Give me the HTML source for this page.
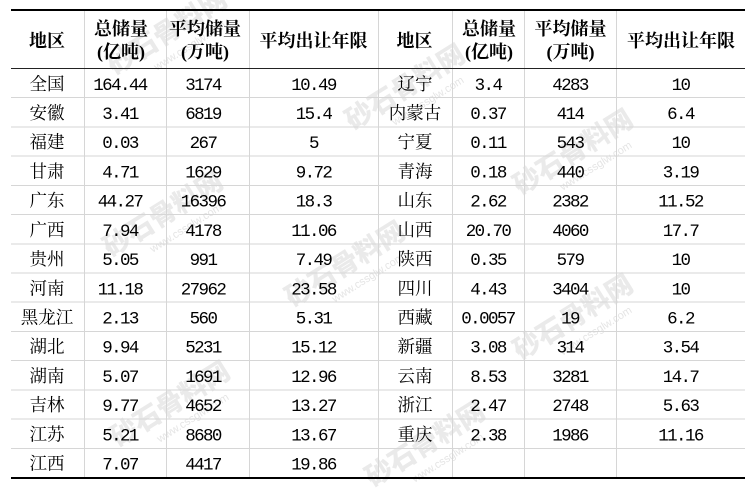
<!DOCTYPE html>
<html><head><meta charset="utf-8"><style>
html,body{margin:0;padding:0;background:#fff;}
svg{display:block;}
.h{font-family:"Noto Serif CJK SC","Noto Serif CJK JP","Liberation Serif",serif;font-weight:700;font-size:18px;fill:#000;}
.hp{font-family:"Liberation Serif",serif;font-weight:700;font-size:18px;fill:#000;}
.c{font-family:"Noto Serif CJK SC","Noto Serif CJK JP",serif;font-size:17.5px;fill:#000;}
.n{font-family:"Liberation Mono",monospace;font-size:17.5px;letter-spacing:-1.6px;fill:#000;}
.wm{font-family:"Noto Sans CJK SC",sans-serif;font-weight:900;font-size:27px;fill:#bbb;fill-opacity:0.3;}
.ws{font-family:"Liberation Sans",sans-serif;font-size:11px;fill:#bbb;fill-opacity:0.4;}
</style></head><body>
<svg width="754" height="488" viewBox="0 0 754 488" xmlns="http://www.w3.org/2000/svg">
<rect width="754" height="488" fill="#fff"/>
<g>
<g transform="translate(172,40) rotate(-32)"><text class="wm" x="0" y="0" text-anchor="middle">砂石骨料网</text><text class="ws" x="12" y="18" text-anchor="middle">www.cssglw.com</text></g>
<g transform="translate(168,222) rotate(-32)"><text class="wm" x="0" y="0" text-anchor="middle">砂石骨料网</text><text class="ws" x="12" y="18" text-anchor="middle">www.cssglw.com</text></g>
<g transform="translate(175,412) rotate(-32)"><text class="wm" x="0" y="0" text-anchor="middle">砂石骨料网</text><text class="ws" x="12" y="18" text-anchor="middle">www.cssglw.com</text></g>
<g transform="translate(410,95) rotate(-32)"><text class="wm" x="0" y="0" text-anchor="middle">砂石骨料网</text><text class="ws" x="12" y="18" text-anchor="middle">www.cssglw.com</text></g>
<g transform="translate(350,272) rotate(-32)"><text class="wm" x="0" y="0" text-anchor="middle">砂石骨料网</text><text class="ws" x="12" y="18" text-anchor="middle">www.cssglw.com</text></g>
<g transform="translate(430,452) rotate(-32)"><text class="wm" x="0" y="0" text-anchor="middle">砂石骨料网</text><text class="ws" x="12" y="18" text-anchor="middle">www.cssglw.com</text></g>
<g transform="translate(578,160) rotate(-32)"><text class="wm" x="0" y="0" text-anchor="middle">砂石骨料网</text><text class="ws" x="12" y="18" text-anchor="middle">www.cssglw.com</text></g>
<g transform="translate(578,325) rotate(-32)"><text class="wm" x="0" y="0" text-anchor="middle">砂石骨料网</text><text class="ws" x="12" y="18" text-anchor="middle">www.cssglw.com</text></g>
</g>
<g stroke="#d6d6d6" stroke-width="1" shape-rendering="crispEdges">
<line x1="84.5" y1="11" x2="84.5" y2="477"/>
<line x1="166.5" y1="11" x2="166.5" y2="477"/>
<line x1="249.5" y1="11" x2="249.5" y2="477"/>
<line x1="378.5" y1="11" x2="378.5" y2="477"/>
<line x1="452.5" y1="11" x2="452.5" y2="477"/>
<line x1="524.5" y1="11" x2="524.5" y2="477"/>
<line x1="616.5" y1="11" x2="616.5" y2="477"/>
<line x1="11" y1="97.7" x2="745" y2="97.7"/>
<line x1="11" y1="126.9" x2="745" y2="126.9"/>
<line x1="11" y1="156.1" x2="745" y2="156.1"/>
<line x1="11" y1="185.4" x2="745" y2="185.4"/>
<line x1="11" y1="214.6" x2="745" y2="214.6"/>
<line x1="11" y1="243.8" x2="745" y2="243.8"/>
<line x1="11" y1="273.0" x2="745" y2="273.0"/>
<line x1="11" y1="302.2" x2="745" y2="302.2"/>
<line x1="11" y1="331.4" x2="745" y2="331.4"/>
<line x1="11" y1="360.6" x2="745" y2="360.6"/>
<line x1="11" y1="389.9" x2="745" y2="389.9"/>
<line x1="11" y1="419.1" x2="745" y2="419.1"/>
<line x1="11" y1="448.3" x2="745" y2="448.3"/>
</g>
<g shape-rendering="crispEdges">
<rect x="11" y="9" width="734" height="2" fill="#000"/>
<rect x="11" y="68" width="734" height="1" fill="#222"/>
<rect x="11" y="477" width="734" height="2" fill="#000"/>
</g>
<g class="h" text-anchor="middle">
<text x="47" y="47">地区</text>
<text x="121" y="35">总储量</text>
<text x="121" y="58"><tspan class="hp">(</tspan>亿吨<tspan class="hp">)</tspan></text>
<text x="205" y="35">平均储量</text>
<text x="205" y="58"><tspan class="hp">(</tspan>万吨<tspan class="hp">)</tspan></text>
<text x="313.5" y="47">平均出让年限</text>
<text x="414.5" y="47">地区</text>
<text x="489" y="35">总储量</text>
<text x="489" y="58"><tspan class="hp">(</tspan>亿吨<tspan class="hp">)</tspan></text>
<text x="570.5" y="35">平均储量</text>
<text x="570.5" y="58"><tspan class="hp">(</tspan>万吨<tspan class="hp">)</tspan></text>
<text x="681" y="47">平均出让年限</text>
</g>
<g class="c" text-anchor="middle">
<text x="47" y="89.8">全国</text>
<text x="47" y="119.0">安徽</text>
<text x="47" y="148.2">福建</text>
<text x="47" y="177.4">甘肃</text>
<text x="47" y="206.7">广东</text>
<text x="47" y="235.9">广西</text>
<text x="47" y="265.1">贵州</text>
<text x="47" y="294.3">河南</text>
<text x="47" y="323.5">黑龙江</text>
<text x="47" y="352.7">湖北</text>
<text x="47" y="381.9">湖南</text>
<text x="47" y="411.2">吉林</text>
<text x="47" y="440.4">江苏</text>
<text x="47" y="469.6">江西</text>
<text x="415" y="89.8">辽宁</text>
<text x="415" y="119.0">内蒙古</text>
<text x="415" y="148.2">宁夏</text>
<text x="415" y="177.4">青海</text>
<text x="415" y="206.7">山东</text>
<text x="415" y="235.9">山西</text>
<text x="415" y="265.1">陕西</text>
<text x="415" y="294.3">四川</text>
<text x="415" y="323.5">西藏</text>
<text x="415" y="352.7">新疆</text>
<text x="415" y="381.9">云南</text>
<text x="415" y="411.2">浙江</text>
<text x="415" y="440.4">重庆</text>
</g>
<g class="n" text-anchor="middle">
<text x="120" y="89.8">164.44</text><text x="203" y="89.8">3174</text><text x="313.5" y="89.8">10.49</text>
<text x="120" y="119.0">3.41</text><text x="203" y="119.0">6819</text><text x="313.5" y="119.0">15.4</text>
<text x="120" y="148.2">0.03</text><text x="203" y="148.2">267</text><text x="313.5" y="148.2">5</text>
<text x="120" y="177.4">4.71</text><text x="203" y="177.4">1629</text><text x="313.5" y="177.4">9.72</text>
<text x="120" y="206.7">44.27</text><text x="203" y="206.7">16396</text><text x="313.5" y="206.7">18.3</text>
<text x="120" y="235.9">7.94</text><text x="203" y="235.9">4178</text><text x="313.5" y="235.9">11.06</text>
<text x="120" y="265.1">5.05</text><text x="203" y="265.1">991</text><text x="313.5" y="265.1">7.49</text>
<text x="120" y="294.3">11.18</text><text x="203" y="294.3">27962</text><text x="313.5" y="294.3">23.58</text>
<text x="120" y="323.5">2.13</text><text x="203" y="323.5">560</text><text x="313.5" y="323.5">5.31</text>
<text x="120" y="352.7">9.94</text><text x="203" y="352.7">5231</text><text x="313.5" y="352.7">15.12</text>
<text x="120" y="381.9">5.07</text><text x="203" y="381.9">1691</text><text x="313.5" y="381.9">12.96</text>
<text x="120" y="411.2">9.77</text><text x="203" y="411.2">4652</text><text x="313.5" y="411.2">13.27</text>
<text x="120" y="440.4">5.21</text><text x="203" y="440.4">8680</text><text x="313.5" y="440.4">13.67</text>
<text x="120" y="469.6">7.07</text><text x="203" y="469.6">4417</text><text x="313.5" y="469.6">19.86</text>

<text x="488" y="89.8">3.4</text><text x="570" y="89.8">4283</text><text x="680.5" y="89.8">10</text>
<text x="488" y="119.0">0.37</text><text x="570" y="119.0">414</text><text x="680.5" y="119.0">6.4</text>
<text x="488" y="148.2">0.11</text><text x="570" y="148.2">543</text><text x="680.5" y="148.2">10</text>
<text x="488" y="177.4">0.18</text><text x="570" y="177.4">440</text><text x="680.5" y="177.4">3.19</text>
<text x="488" y="206.7">2.62</text><text x="570" y="206.7">2382</text><text x="680.5" y="206.7">11.52</text>
<text x="488" y="235.9">20.70</text><text x="570" y="235.9">4060</text><text x="680.5" y="235.9">17.7</text>
<text x="488" y="265.1">0.35</text><text x="570" y="265.1">579</text><text x="680.5" y="265.1">10</text>
<text x="488" y="294.3">4.43</text><text x="570" y="294.3">3404</text><text x="680.5" y="294.3">10</text>
<text x="488" y="323.5">0.0057</text><text x="570" y="323.5">19</text><text x="680.5" y="323.5">6.2</text>
<text x="488" y="352.7">3.08</text><text x="570" y="352.7">314</text><text x="680.5" y="352.7">3.54</text>
<text x="488" y="381.9">8.53</text><text x="570" y="381.9">3281</text><text x="680.5" y="381.9">14.7</text>
<text x="488" y="411.2">2.47</text><text x="570" y="411.2">2748</text><text x="680.5" y="411.2">5.63</text>
<text x="488" y="440.4">2.38</text><text x="570" y="440.4">1986</text><text x="680.5" y="440.4">11.16</text>
</g>
</svg>
</body></html>
